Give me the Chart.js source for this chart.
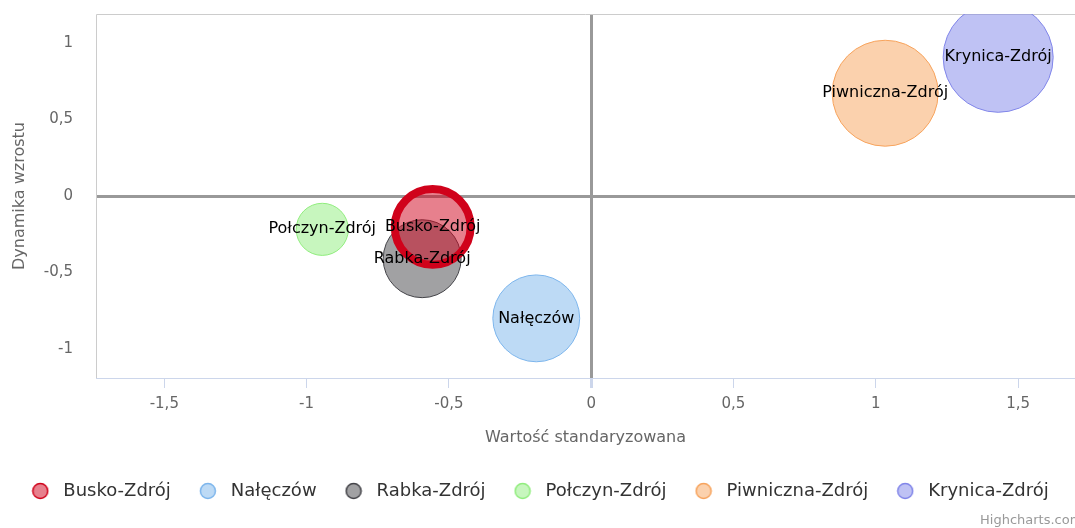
<!DOCTYPE html>
<html>
<head>
<meta charset="utf-8">
<script src="https://cdn.jsdelivr.net/npm/chart.js@4/dist/chart.umd.min.js"></script>
<style>
  html, body { margin: 0; padding: 0; background: #fff; }
  #wrap { width: 1075px; height: 528px; }
</style>
</head>
<body>
<div id="wrap"><canvas id="myChart" width="1075" height="528"></canvas></div>
<script>
// -------- Data --------
const places = ['Busko-Zdrój', 'Nałęczów', 'Rabka-Zdrój', 'Połczyn-Zdrój', 'Piwniczna-Zdrój', 'Krynica-Zdrój'];
const standardValue = [-0.557, -0.193, -0.594, -0.945, 1.033, 1.43];   // x
const growthRate = [-0.202, -0.80, -0.41, -0.218, 0.672, 0.907];       // y
const bubbleSize = [1.44, 1.89, 1.52, 0.68, 2.81, 3.03];               // z

const xTicks = [-1.5, -1, -0.5, 0, 0.5, 1, 1.5];
const yTicks = [-1, -0.5, 0, 0.5, 1];

const xTitle = 'Wartość standaryzowana';
const yTitle = 'Dynamika wzrostu';

// -------- Styles --------
const colors = ['#d0021b', '#7cb5ec', '#434348', '#90ed7d', '#f7a35c', '#8085e9'];
const fills = ['rgba(208,2,27,0.5)', 'rgba(124,181,236,0.5)', 'rgba(67,67,72,0.5)',
               'rgba(144,237,125,0.5)', 'rgba(247,163,92,0.5)', 'rgba(128,133,233,0.5)'];
const FONT = '"DejaVu Sans", Verdana, sans-serif';

// area-based bubble radius
const radius = z => Math.sqrt(z) * 31.6;

const fmt = v => String(v).replace('.', ',');

// legend marker image
function markerImage(fill, stroke) {
  const c = document.createElement('canvas');
  c.width = 18; c.height = 18;
  const g = c.getContext('2d');
  g.beginPath();
  g.arc(9, 9, 7.5, 0, Math.PI * 2);
  g.fillStyle = fill; g.fill();
  g.lineWidth = 1.5; g.strokeStyle = stroke; g.stroke();
  return c;
}

// -------- Plugins --------
const frame = {
  id: 'frame',
  beforeDatasetsDraw(chart) {
    const { ctx, chartArea: a } = chart;
    ctx.save();
    ctx.strokeStyle = '#cccccc';
    ctx.lineWidth = 1;
    ctx.beginPath();
    ctx.moveTo(a.left + 0.5, a.bottom);
    ctx.lineTo(a.left + 0.5, a.top + 0.5);
    ctx.lineTo(a.right, a.top + 0.5);
    ctx.stroke();
    ctx.restore();
  }
};

const bubbleLabels = {
  id: 'bubbleLabels',
  afterDatasetsDraw(chart) {
    const { ctx } = chart;
    ctx.save();
    ctx.font = '16px ' + FONT;
    ctx.fillStyle = '#000';
    ctx.textAlign = 'center';
    ctx.textBaseline = 'middle';
    chart.data.datasets.forEach((ds, i) => {
      const pt = chart.getDatasetMeta(i).data[0];
      ctx.fillText(ds.label, pt.x, pt.y);
    });
    ctx.restore();
  }
};

const credits = {
  id: 'credits',
  afterDraw(chart) {
    const { ctx } = chart;
    ctx.save();
    ctx.font = '13px ' + FONT;
    ctx.fillStyle = '#999';
    ctx.textAlign = 'left';
    ctx.textBaseline = 'middle';
    ctx.fillText('Highcharts.com', 980, 521);
    ctx.restore();
  }
};

// -------- Chart --------
const ctx = document.getElementById('myChart').getContext('2d');

new Chart(ctx, {
  type: 'bubble',
  data: {
    datasets: places.map((name, i) => ({
      label: name,
      data: [{ x: standardValue[i], y: growthRate[i], r: radius(bubbleSize[i]) }],
      backgroundColor: fills[i],
      borderColor: colors[i],
      borderWidth: i === 0 ? 8 : 1,
      hoverRadius: 0
    }))
  },
  options: {
    responsive: false,
    animation: false,
    layout: { autoPadding: false, padding: { top: 14, right: 0, bottom: 18, left: 0 } },
    plugins: {
      tooltip: { enabled: false },
      legend: {
        position: 'bottom',
        labels: {
          usePointStyle: true,
          pointStyleWidth: 28,
          boxHeight: 18,
          padding: 23,
          color: '#333',
          font: { family: FONT, size: 18 },
          generateLabels(chart) {
            return chart.data.datasets.map((ds, i) => ({
              text: ds.label,
              fillStyle: fills[i],
              strokeStyle: colors[i],
              lineWidth: 0,
              pointStyle: markerImage(fills[i], colors[i]),
              fontColor: '#333',
              hidden: false,
              datasetIndex: i
            }));
          }
        }
      }
    },
    scales: {
      x: {
        type: 'linear',
        min: -1.74,
        max: 1.70,
        afterBuildTicks: axis => { axis.ticks = xTicks.map(v => ({ value: v })); },
        afterFit: axis => { axis.height = 81; axis.paddingLeft = 0; axis.paddingRight = 0; },
        ticks: {
          padding: 7,
          color: '#666',
          font: { family: FONT, size: 15 },
          callback: v => fmt(v),
          maxRotation: 0,
          autoSkip: false
        },
        grid: {
          color: c => (c.tick && c.tick.value === 0 ? '#999999' : 'rgba(0,0,0,0)'),
          lineWidth: c => (c.tick && c.tick.value === 0 ? 3 : 1),
          tickColor: '#ccd6eb',
          tickLength: 10,
          drawTicks: true
        },
        border: { color: '#ccd6eb', width: 1 },
        title: {
          display: true,
          text: xTitle,
          color: '#666',
          font: { family: FONT, size: 16 },
          padding: { top: 13, bottom: 12 }
        }
      },
      y: {
        type: 'linear',
        min: -1.19,
        max: 1.19,
        afterBuildTicks: axis => { axis.ticks = yTicks.map(v => ({ value: v })); },
        afterFit: axis => { axis.width = 96; axis.paddingTop = 0; axis.paddingBottom = 0; },
        ticks: {
          padding: 23,
          color: '#666',
          font: { family: FONT, size: 15 },
          callback: v => fmt(v),
          autoSkip: false
        },
        grid: {
          color: c => (c.tick && c.tick.value === 0 ? '#999999' : 'rgba(0,0,0,0)'),
          lineWidth: c => (c.tick && c.tick.value === 0 ? 3 : 1),
          drawTicks: false
        },
        border: { display: false },
        title: {
          display: true,
          text: yTitle,
          color: '#666',
          font: { family: FONT, size: 16 },
          padding: { top: 10, bottom: 0 }
        }
      }
    }
  },
  plugins: [frame, bubbleLabels, credits]
});
</script>
</body>
</html>
